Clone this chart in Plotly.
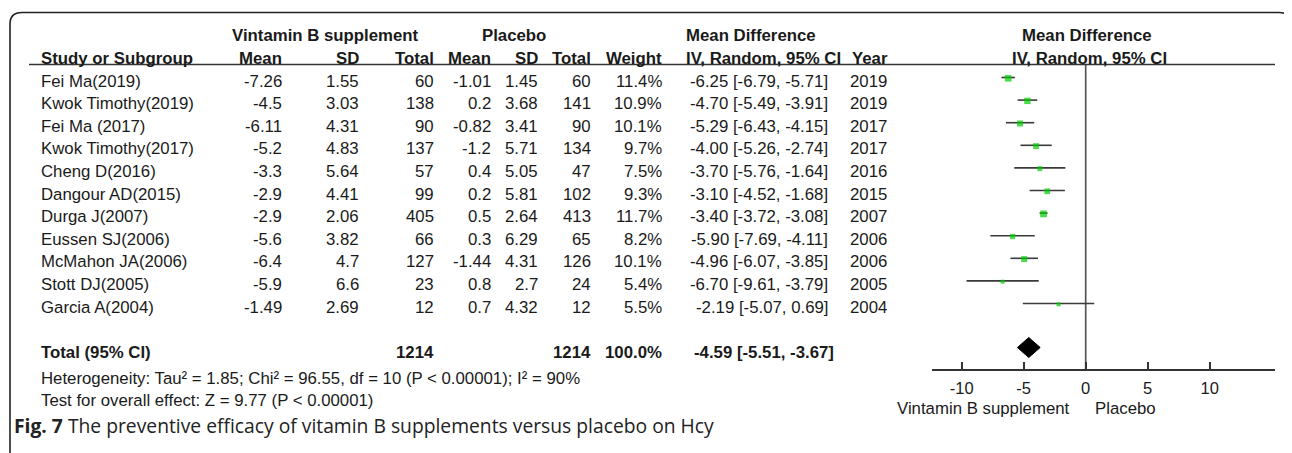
import plotly.graph_objects as go

# ---------------- data ----------------
studies = ["Fei Ma(2019)", "Kwok Timothy(2019)", "Fei Ma (2017)", "Kwok Timothy(2017)",
           "Cheng D(2016)", "Dangour AD(2015)", "Durga J(2007)", "Eussen SJ(2006)",
           "McMahon JA(2006)", "Stott DJ(2005)", "Garcia A(2004)"]
vb_mean = [-7.26, -4.5, -6.11, -5.2, -3.3, -2.9, -2.9, -5.6, -6.4, -5.9, -1.49]
vb_sd = [1.55, 3.03, 4.31, 4.83, 5.64, 4.41, 2.06, 3.82, 4.7, 6.6, 2.69]
vb_total = [60, 138, 90, 137, 57, 99, 405, 66, 127, 23, 12]
pl_mean = [-1.01, 0.2, -0.82, -1.2, 0.4, 0.2, 0.5, 0.3, -1.44, 0.8, 0.7]
pl_sd = [1.45, 3.68, 3.41, 5.71, 5.05, 5.81, 2.64, 6.29, 4.31, 2.7, 4.32]
pl_total = [60, 141, 90, 134, 47, 102, 413, 65, 126, 24, 12]
weight = [11.4, 10.9, 10.1, 9.7, 7.5, 9.3, 11.7, 8.2, 10.1, 5.4, 5.5]
md = [-6.25, -4.70, -5.29, -4.00, -3.70, -3.10, -3.40, -5.90, -4.96, -6.70, -2.19]
ci_lo = [-6.79, -5.49, -6.43, -5.26, -5.76, -4.52, -3.72, -7.69, -6.07, -9.61, -5.07]
ci_hi = [-5.71, -3.91, -4.15, -2.74, -1.64, -1.68, -3.08, -4.11, -3.85, -3.79, 0.69]
years = [2019, 2019, 2017, 2017, 2016, 2015, 2007, 2006, 2006, 2005, 2004]

total_label = "Total (95% CI)"
total_vb = 1214
total_pl = 1214
total_weight = "100.0%"
total_md, total_lo, total_hi = -4.59, -5.51, -3.67
heterogeneity = "Heterogeneity: Tau² = 1.85; Chi² = 96.55, df = 10 (P < 0.00001); I² = 90%"
overall = "Test for overall effect: Z = 9.77 (P < 0.00001)"
tick_vals = [-10, -5, 0, 5, 10]
tick_text = ["-10", "-5", "0", "5", "10"]
left_label = "Vintamin B supplement"
right_label = "Placebo"
caption_bold = "Fig. 7"
caption_rest = " The preventive efficacy of vitamin B supplements versus placebo on Hcy"

# ---------------- layout constants (page pixels) ----------------
W, H = 1292, 453
OFF = 8                      # browser body margin
FW, FH = W - OFF, H - OFF    # figure size
ROW0_TXT, ROW0_MARK, ROWH = 81, 77.5, 22.6
Y_H1, Y_H2, Y_LINE = 35, 58, 64.5
Y_TOTAL, Y_DIAMOND = 352, 347.5
Y_HET, Y_TEST, Y_CAP = 378, 400, 425
Y_AXIS, Y_SIDE = 370, 408
FX0, FX1 = 932, 1275
ZERO_PX, PX_PER_UNIT = 1085.7, 12.4
xr0 = -(ZERO_PX - FX0) / PX_PER_UNIT
xr1 = (FX1 - ZERO_PX) / PX_PER_UNIT

FONT = "Arial, 'Liberation Sans', sans-serif"
FS = 16.8
TXT = "#1a1a1a"

row_txt = [ROW0_TXT + i * ROWH for i in range(len(studies))]
row_mark = [ROW0_MARK + i * ROWH for i in range(len(studies))]

fig = go.Figure()

# invisible anchor trace for the page-pixel axis
fig.add_trace(go.Scatter(x=[OFF, W], y=[OFF, H], xaxis="x2", yaxis="y", mode="markers",
                         marker=dict(opacity=0), hoverinfo="skip", showlegend=False))

# zero line
fig.add_trace(go.Scatter(x=[0, 0], y=[Y_LINE, Y_AXIS], mode="lines",
                         line=dict(color="#555555", width=1.7), hoverinfo="skip", showlegend=False))

# CI lines
for y, lo, hi in zip(row_mark, ci_lo, ci_hi):
    fig.add_trace(go.Scatter(x=[lo, hi], y=[y, y], mode="lines",
                             line=dict(color="#3a3a3a", width=1.6), hoverinfo="skip", showlegend=False))

# squares
fig.add_trace(go.Scatter(x=md, y=[y + 0.8 for y in row_mark], mode="markers",
                         marker=dict(symbol="square", color="#00cc00",
                                     size=[1.5 + w * 0.45 for w in weight], line=dict(width=0)),
                         hoverinfo="skip", showlegend=False))

# diamond
fig.add_trace(go.Scatter(x=[total_lo, total_md, total_hi, total_md, total_lo],
                         y=[Y_DIAMOND, Y_DIAMOND - 10, Y_DIAMOND, Y_DIAMOND + 10, Y_DIAMOND],
                         mode="lines", fill="toself", fillcolor="black",
                         line=dict(color="black", width=1), hoverinfo="skip", showlegend=False))

ann = []


def txt(x, y, s, anchor="left", bold=False, size=FS, color=TXT, family=FONT):
    if bold:
        s = "<b>" + s + "</b>"
    ann.append(dict(x=x, y=y, xref="x2", yref="y", text=s, showarrow=False,
                    xanchor=anchor, yanchor="middle",
                    font=dict(family=family, size=size, color=color)))


# headers
txt(325, Y_H1, "Vintamin B supplement", "center", True)
txt(514, Y_H1, "Placebo", "center", True)
txt(684, Y_H1, "Mean Difference", "left", True)
txt(1087, Y_H1, "Mean Difference", "center", True)
txt(39, Y_H2, "Study or Subgroup", "left", True)
txt(284, Y_H2, "Mean", "right", True)
txt(361, Y_H2, "SD", "right", True)
txt(436, Y_H2, "Total", "right", True)
txt(493, Y_H2, "Mean", "right", True)
txt(540, Y_H2, "SD", "right", True)
txt(593, Y_H2, "Total", "right", True)
txt(664, Y_H2, "Weight", "right", True)
txt(684, Y_H2, "IV, Random, 95% CI", "left", True)
txt(850, Y_H2, "Year", "left", True)
txt(1089, Y_H2, "IV, Random, 95% CI", "center", True)

# rows
for i, y in enumerate(row_txt):
    txt(39, y, studies[i])
    txt(284, y, f"{vb_mean[i]:g}", "right")
    txt(361, y, f"{vb_sd[i]:g}", "right")
    txt(436, y, str(vb_total[i]), "right")
    txt(493, y, f"{pl_mean[i]:g}", "right")
    txt(540, y, f"{pl_sd[i]:g}", "right")
    txt(593, y, str(pl_total[i]), "right")
    txt(664, y, f"{weight[i]:.1f}%", "right")
    txt(830, y, f"{md[i]:.2f} [{ci_lo[i]:.2f}, {ci_hi[i]:.2f}]", "right")
    txt(848, y, str(years[i]), "left")

# totals
txt(39, Y_TOTAL, total_label, "left", True)
txt(436, Y_TOTAL, str(total_vb), "right", True)
txt(593, Y_TOTAL, str(total_pl), "right", True)
txt(664, Y_TOTAL, total_weight, "right", True)
txt(692, Y_TOTAL, f"{total_md:.2f} [{total_lo:.2f}, {total_hi:.2f}]", "left", True)
txt(39, Y_HET, heterogeneity, "left")
txt(39, Y_TEST, overall, "left")

# axis side labels
txt(1072, Y_SIDE, left_label, "right")
txt(1093, Y_SIDE, right_label, "left")

# caption
txt(12, Y_CAP, "<b>" + caption_bold + "</b>" + caption_rest, "left", size=19.3,
    color="#222222", family="'Open Sans', 'Noto Sans', sans-serif")

shapes = [
    # header underline
    dict(type="line", xref="x2", yref="y", x0=29, x1=FX1, y0=Y_LINE, y1=Y_LINE,
         line=dict(color="#333333", width=1.5)),
    # frame with rounded top corners
    dict(type="path", xref="x2", yref="y",
         path="M 10,470 L 10,24 Q 10,12.5 22,12.5 L 1279,12.5 Q 1291,12.5 1291,24 L 1291,470",
         line=dict(color="#222222", width=1.6)),
]

fig.update_layout(
    width=FW, height=FH,
    margin=dict(l=0, r=0, t=0, b=0),
    paper_bgcolor="white", plot_bgcolor="rgba(0,0,0,0)",
    showlegend=False,
    annotations=ann,
    shapes=shapes,
    yaxis=dict(domain=[0, 1], range=[H, OFF], visible=False, fixedrange=True),
    xaxis=dict(domain=[(FX0 - OFF) / FW, (FX1 - OFF) / FW], range=[xr0, xr1], anchor="free",
               position=1 - (Y_AXIS - OFF) / FH, showgrid=False, zeroline=False,
               showline=True, linecolor="#333333", linewidth=1.6,
               ticks="inside", ticklen=7, tickwidth=1.6, tickcolor="#333333",
               tickvals=tick_vals, ticktext=tick_text, ticklabelstandoff=3,
               tickfont=dict(family=FONT, size=16.5, color=TXT)),
    xaxis2=dict(domain=[0, 1], range=[OFF, W], anchor="y", visible=False,
                fixedrange=True),
)

fig.write_html("out.html")
